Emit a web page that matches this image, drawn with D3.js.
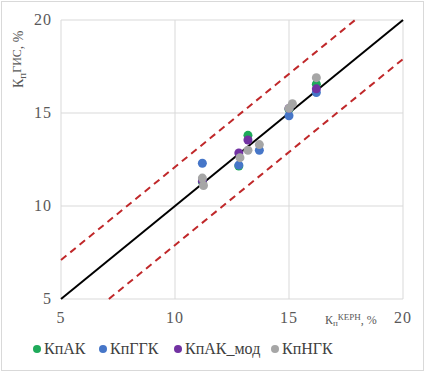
<!DOCTYPE html>
<html>
<head>
<meta charset="utf-8">
<script src="https://cdn.jsdelivr.net/npm/d3@7"></script>
<style>
  body { margin: 0; background: #fff; }
</style>
</head>
<body>
<script>
// values
var ticks = [5, 10, 15, 20];
var seriesNames = ["КпАК", "КпГГК", "КпАК_мод", "КпНГК"];
var seriesColors = ["#1faa5a", "#4676c8", "#7232a2", "#a6a6a6"];
var kpAK = [[11.2, 11.3], [12.8, 12.15], [13.2, 13.8], [15.0, 15.2], [16.2, 16.55]];
var kpGGK = [[11.2, 12.3], [12.8, 12.2], [13.7, 13.0], [15.0, 14.85], [16.2, 16.1]];
var kpAKmod = [[11.2, 11.35], [12.8, 12.85], [13.2, 13.55], [15.0, 15.25], [16.2, 16.3]];
var kpNGK = [[11.2, 11.5], [11.25, 11.1], [12.85, 12.6], [13.2, 13.0], [13.7, 13.3], [15.0, 15.25], [15.15, 15.5], [16.2, 16.9]];
var allSeries = [kpAK, kpGGK, kpAKmod, kpNGK];
var identity = [[5, 5], [20, 20]];
var upperBand = [[5, 7.1], [17.9, 20]];
var lowerBand = [[7.1, 5], [20, 17.9]];

var FONT = "'Times New Roman', Times, 'Liberation Serif', serif";
var W = 426, H = 374;
var svg = d3.select("body").append("svg").attr("width", W).attr("height", H)
    .style("font-family", FONT);

svg.append("rect")
    .attr("x", 1.5).attr("y", 1.5)
    .attr("width", W - 4).attr("height", H - 5)
    .attr("fill", "#fff").attr("stroke", "#d9d9d9");

var x = d3.scaleLinear().domain([5, 20]).range([61, 403]);
var y = d3.scaleLinear().domain([5, 20]).range([299, 20]);

// grid
var g = svg.append("g");
g.selectAll(".gx").data(ticks).enter().append("line")
    .attr("x1", d => x(d)).attr("x2", d => x(d))
    .attr("y1", y(5)).attr("y2", y(20))
    .attr("stroke", "#d9d9d9");
g.selectAll(".gy").data(ticks).enter().append("line")
    .attr("y1", d => y(d)).attr("y2", d => y(d))
    .attr("x1", x(5)).attr("x2", x(20))
    .attr("stroke", "#d9d9d9");

// tick labels
svg.append("g").selectAll("text").data(ticks).enter().append("text")
    .attr("x", 52).attr("y", d => y(d) + 5)
    .attr("text-anchor", "end")
    .attr("font-family", FONT)
    .attr("font-size", 16).attr("letter-spacing", 1).attr("fill", "#595959")
    .text(d => d);
svg.append("g").selectAll("text").data(ticks).enter().append("text")
    .attr("x", d => x(d)).attr("y", 323)
    .attr("text-anchor", "middle")
    .attr("font-family", FONT)
    .attr("font-size", 16).attr("letter-spacing", 1).attr("fill", "#595959")
    .text(d => d);

var line = d3.line().x(d => x(d[0])).y(d => y(d[1]));

svg.append("path").datum(upperBand).attr("d", line)
    .attr("fill", "none").attr("stroke", "#c0282a")
    .attr("stroke-width", 2).attr("stroke-dasharray", "7,5");
svg.append("path").datum(lowerBand).attr("d", line)
    .attr("fill", "none").attr("stroke", "#c0282a")
    .attr("stroke-width", 2).attr("stroke-dasharray", "7,5");
svg.append("path").datum(identity).attr("d", line)
    .attr("fill", "none").attr("stroke", "#000")
    .attr("stroke-width", 2);

// points
allSeries.forEach(function (s, i) {
    svg.append("g").selectAll("circle").data(s).enter().append("circle")
        .attr("cx", d => x(d[0])).attr("cy", d => y(d[1]))
        .attr("r", 4.5)
        .attr("fill", seriesColors[i]);
});

// axis titles
var yt = svg.append("text")
    .attr("transform", "translate(23,88) rotate(-90)")
    .attr("font-family", FONT)
    .attr("font-size", 14).attr("fill", "#595959");
yt.append("tspan").text("К");
yt.append("tspan").attr("font-size", 11).attr("dy", 3).text("п");
yt.append("tspan").attr("font-size", 12).attr("dy", -5).text("ГИС");
yt.append("tspan").attr("dy", 2).text(", %");

var xt = svg.append("text")
    .attr("x", 325).attr("y", 324)
    .attr("font-family", FONT)
    .attr("font-size", 12).attr("fill", "#595959");
xt.append("tspan").text("К");
xt.append("tspan").attr("font-size", 9).attr("dy", 2).text("п");
xt.append("tspan").attr("font-size", 9).attr("dy", -6).text("КЕРН");
xt.append("tspan").attr("font-size", 12).attr("dy", 4).text(", %");

// legend
var legX = [37, 103, 178, 275];
var leg = svg.append("g").selectAll("g").data(seriesNames).enter().append("g")
    .attr("transform", (d, i) => "translate(" + legX[i] + ",349)");
leg.append("circle").attr("r", 4).attr("fill", (d, i) => seriesColors[i]);
leg.append("text").attr("x", 7).attr("y", 5)
    .attr("font-family", FONT)
    .attr("font-size", 16).attr("fill", "#404040")
    .text(d => d);
</script>
</body>
</html>
